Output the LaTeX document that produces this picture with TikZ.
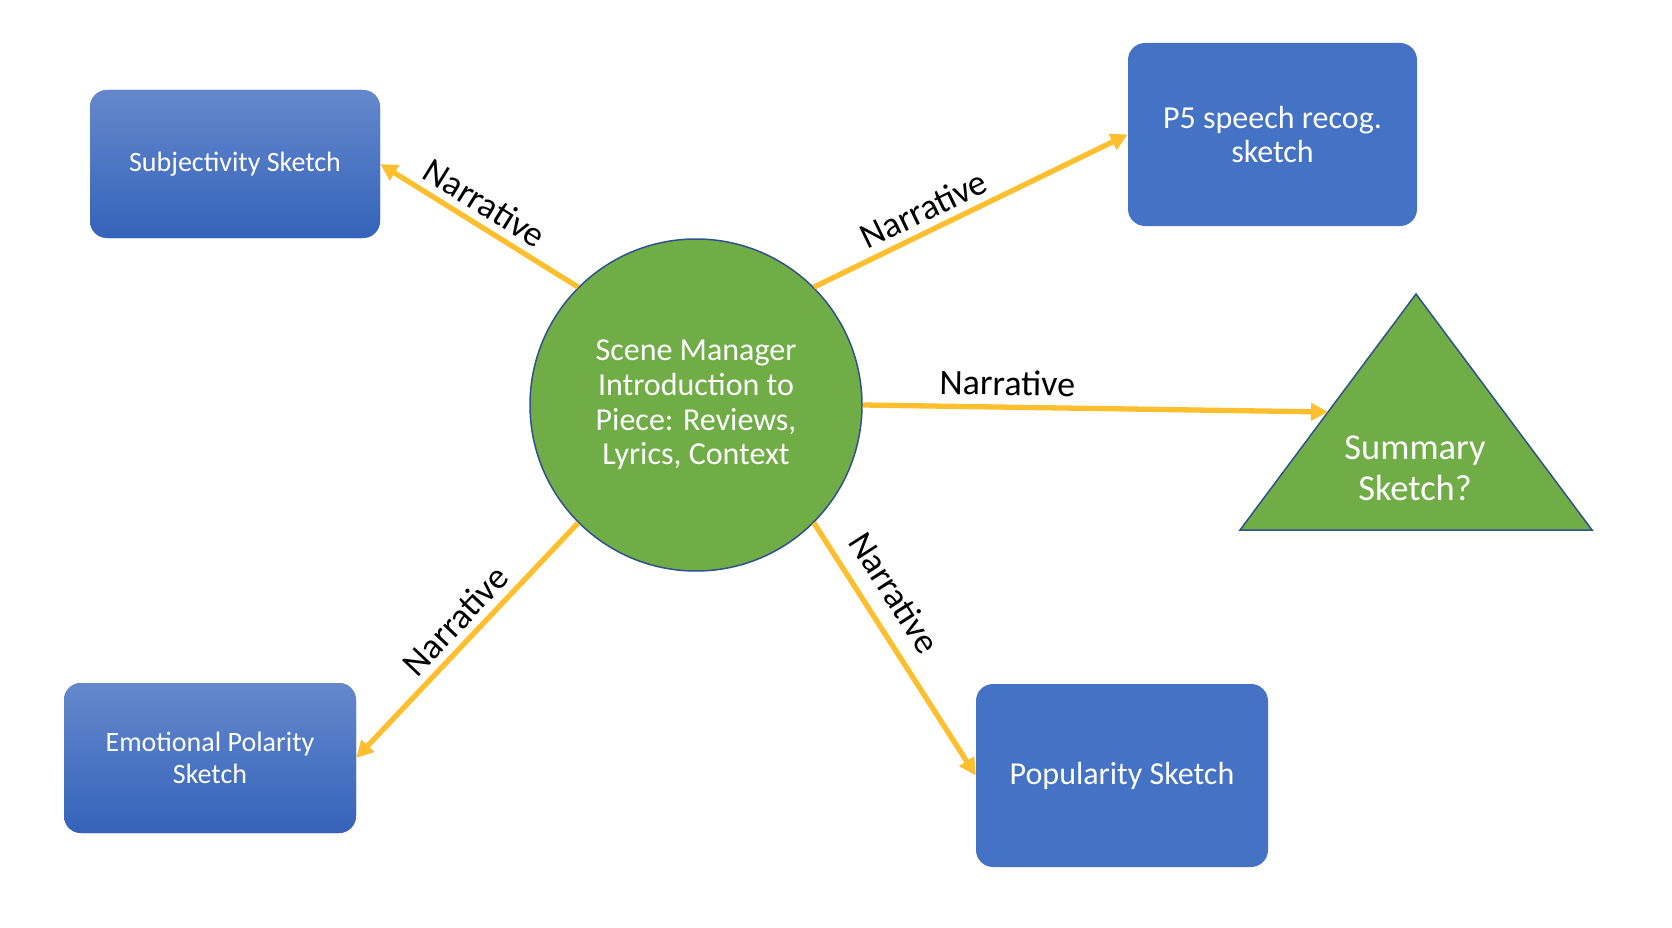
\documentclass[tikz,border=0pt]{standalone}
\usepackage{fontspec}
\setmainfont{Carlito}
\usetikzlibrary{arrows.meta,shapes.geometric,calc}
\definecolor{boxblue}{HTML}{4472C4}
\definecolor{gradtop}{HTML}{6588CC}
\definecolor{gradbot}{HTML}{3463BA}
\definecolor{mgreen}{HTML}{70AD47}
\definecolor{edgeblue}{HTML}{2F528F}
\definecolor{arrowgold}{HTML}{FDBF2D}
\begin{document}
\begin{tikzpicture}[x=1pt,y=-1pt,
  box/.style={rectangle, rounded corners=17pt, fill=boxblue, text=white,
    font=\fontsize{32}{34}\selectfont, align=center, inner sep=0pt},
  gradbox/.style={box, top color=gradtop, bottom color=gradbot,
    font=\fontsize{28}{31.5}\selectfont},
  conn/.style={draw=arrowgold, line width=5.3pt, -{Triangle[length=17pt,width=17pt]}},
  lbl/.style={font=\fontsize{36}{40}\selectfont, sloped, above, text=black, inner sep=7pt}
]
\useasboundingbox (0,0) rectangle (1672,928);
\fill[white] (0,0) rectangle (1672,928);

\node[gradbox, minimum width=290pt, minimum height=148pt] (subj) at (235,164) {Subjectivity Sketch};
\node[box, minimum width=289pt, minimum height=183pt] (p5) at (1272.5,134.5) {P5 speech recog.\\sketch};
\node[gradbox, minimum width=292pt, minimum height=150pt] (emo) at (210,758) {Emotional Polarity\\Sketch};
\node[box, minimum width=292pt, minimum height=183pt] (pop) at (1122,775.5) {Popularity Sketch};

\node[circle, fill=mgreen, draw=edgeblue, line width=1.5pt, minimum size=332pt,
  inner sep=0pt, text=white, align=center, font=\fontsize{32}{34.6}\selectfont] (sm) at (696,405)
  {Scene Manager\\Introduction to\\Piece: Reviews,\\Lyrics, Context};

\coordinate (tA) at (1416,294);
\coordinate (tL) at (1240,530);
\coordinate (tR) at (1592,530);
\filldraw[fill=mgreen, draw=edgeblue, line width=1.5pt] (tA) -- (tL) -- (tR) -- cycle;
\coordinate (tside) at ($(tA)!0.5!(tL)$);
\node[text=white, align=center, font=\fontsize{36.5}{41}\selectfont] (summ) at (1415,468) {Summary\\Sketch?};

\draw[conn] (sm.135) -- (subj.east) node[lbl, pos=0.53] {Narrative};
\draw[conn] (sm.45) -- (p5.west) node[lbl, pos=0.38] {Narrative};
\draw[conn] (sm.east) -- (tside) node[lbl, pos=0.31, inner sep=9pt] {Narrative};
\draw[conn] (sm.-135) -- (emo.east) node[lbl, pos=0.48] {Narrative};
\draw[conn] (sm.-45) -- (pop.west) node[lbl, pos=0.34, inner sep=15pt] {Narrative};
\end{tikzpicture}
\end{document}
